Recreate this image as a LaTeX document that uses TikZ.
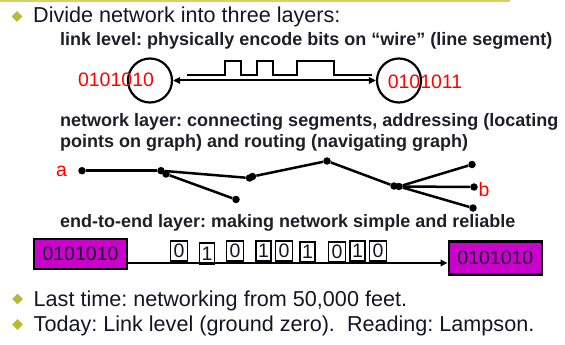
\documentclass[tikz,border=0pt]{standalone}
\usepackage{fontspec}
\setmainfont{Liberation Sans}
\usetikzlibrary{shapes.geometric,arrows.meta}
\definecolor{txt}{RGB}{20,20,38}
\definecolor{subtxt}{RGB}{30,30,40}
\definecolor{bullet}{RGB}{185,185,55}
\definecolor{topline}{RGB}{212,212,100}
\definecolor{mag}{RGB}{204,0,204}
\definecolor{redtxt}{RGB}{255,0,0}
\frenchspacing
\begin{document}
\begin{tikzpicture}[x=1pt,y=-1pt,
  bul/.style={diamond,fill=bullet,inner sep=0pt,minimum width=11pt,minimum height=11pt},
  maintext/.style={anchor=base west,inner sep=0pt,text=txt,font=\fontsize{21.6}{26}\selectfont},
  subtext/.style={anchor=base west,inner sep=0pt,text=subtxt,font=\bfseries\fontsize{18}{22}\selectfont},
  redlbl/.style={inner sep=0pt,text=redtxt,font=\fontsize{19.5}{23}\selectfont},
  ring/.style={circle,draw,line width=2.2pt,minimum size=44pt,inner sep=0pt},
  dot/.style={circle,fill,inner sep=0pt,minimum size=7.5pt},
  edge/.style={line width=2.5pt},
  tip/.style={line width=2pt},
  endbox/.style={draw,line width=2.8pt,fill=mag,inner sep=0pt,text=txt,font=\fontsize{19.5}{23}\selectfont},
  bitbox/.style={draw,line width=1.8pt,inner sep=0pt,minimum height=20.5pt,text=txt,font=\fontsize{19.5}{22}\selectfont},
  zerobox/.style={bitbox,minimum width=17pt},
  onebox/.style={bitbox,minimum width=15pt},
]
\useasboundingbox (0,0) rectangle (565,345);

% top rule
\draw[topline,line width=2pt] (0,1) -- (510,1);

% bullets and main text
\node[bul] (d1) at (17,16.5) {};
\node[maintext] (t1) at (33,22.5) {Divide network into three layers:};
\node[bul] (d2) at (17.5,299) {};
\node[maintext] (t2) at (33.5,306) {Last time: networking from 50,000 feet.};
\node[bul] (d3) at (17.5,324.5) {};
\node[maintext] (t3) at (33.5,331.5) {Today: Link level (ground zero).\hspace{0.556em}Reading: Lampson.};

% sub texts
\node[subtext] (s1) at (60,46) {link level: physically encode bits on “wire” (line segment)};
\node[subtext] (s2) at (60,126) {network layer: connecting segments, addressing (locating};
\node[subtext] (s3) at (60,147.5) {points on graph) and routing (navigating graph)};
\node[subtext] (s4) at (60,227) {end-to-end layer: making network simple and reliable};

% link level diagram
\node[ring] (lring) at (150,80.5) {};
\node[ring] (rring) at (399,80.5) {};
\draw[tip,{Triangle[length=7pt,width=6.5pt]}-{Triangle[length=7pt,width=6.5pt]}] (lring) -- (rring);
\draw[line width=2.8pt] (187,75) -| (225,61) -| (241,75) -| (257,61) -| (273,75) -| (297,61) -| (334,75) -- (372,75);
\node[redlbl] (lbits) at (116,80) {0101010};
\node[redlbl] (rbits) at (425,81.5) {0101011};

% network graph
\node[dot] (na) at (82,170.7) {};
\node[dot] (n2) at (161,170.7) {};
\node[dot] (n2b) at (166,174) {};
\node[dot] (n3) at (249.5,178) {};
\node[dot] (n3b) at (252.5,176.5) {};
\node[dot] (n4) at (236,199.5) {};
\node[dot] (ntop) at (327,161) {};
\node[dot] (hub) at (394,186) {};
\node[dot] (hubb) at (399,186.5) {};
\node[dot] (bt) at (472,164.5) {};
\node[dot] (bm) at (474,187) {};
\node[dot] (bl) at (473,208) {};
\draw[edge] (na) -- (n2);
\draw[edge] (n2) -- (n3);
\draw[edge] (n2b) -- (n4);
\draw[edge] (n3b) -- (ntop);
\draw[edge] (ntop) -- (hub);
\draw[edge] (hubb) -- (bt);
\draw[edge] (hubb) -- (bm);
\draw[edge] (hubb) -- (bl);
\node[redlbl] (la) at (61.5,171) {a};
\node[redlbl] (lb) at (484,190) {b};

% end-to-end
\node[endbox,minimum width=93pt,minimum height=30pt] (lbox) at (80.5,254) {0101010};
\node[endbox,minimum width=93pt,minimum height=33.5pt] (rbox) at (495.4,258) {0101010};
\coordinate (ay) at (0,263);
\draw[tip,-{Triangle[length=7pt,width=6.5pt]}] (lbox.east |- ay) -- (rbox.west |- ay);
\node[zerobox] (b1) at (179,251) {\raisebox{-1.5pt}{0}};
\node[onebox]  (b2) at (207,253.5) {\raisebox{-1.5pt}{1}};
\node[zerobox] (b3) at (235,251) {\raisebox{-1.5pt}{0}};
\node[onebox]  (b4) at (263.5,251) {\raisebox{-1.5pt}{1}};
\node[zerobox] (b5) at (284,251) {\raisebox{-1.5pt}{0}};
\node[onebox]  (b6) at (307.5,252) {\raisebox{-1.5pt}{1}};
\node[zerobox] (b7) at (337,252) {\raisebox{-1.5pt}{0}};
\node[onebox]  (b8) at (357.5,251) {\raisebox{-1.5pt}{1}};
\node[zerobox] (b9) at (378,251) {\raisebox{-1.5pt}{0}};
\end{tikzpicture}
\end{document}
